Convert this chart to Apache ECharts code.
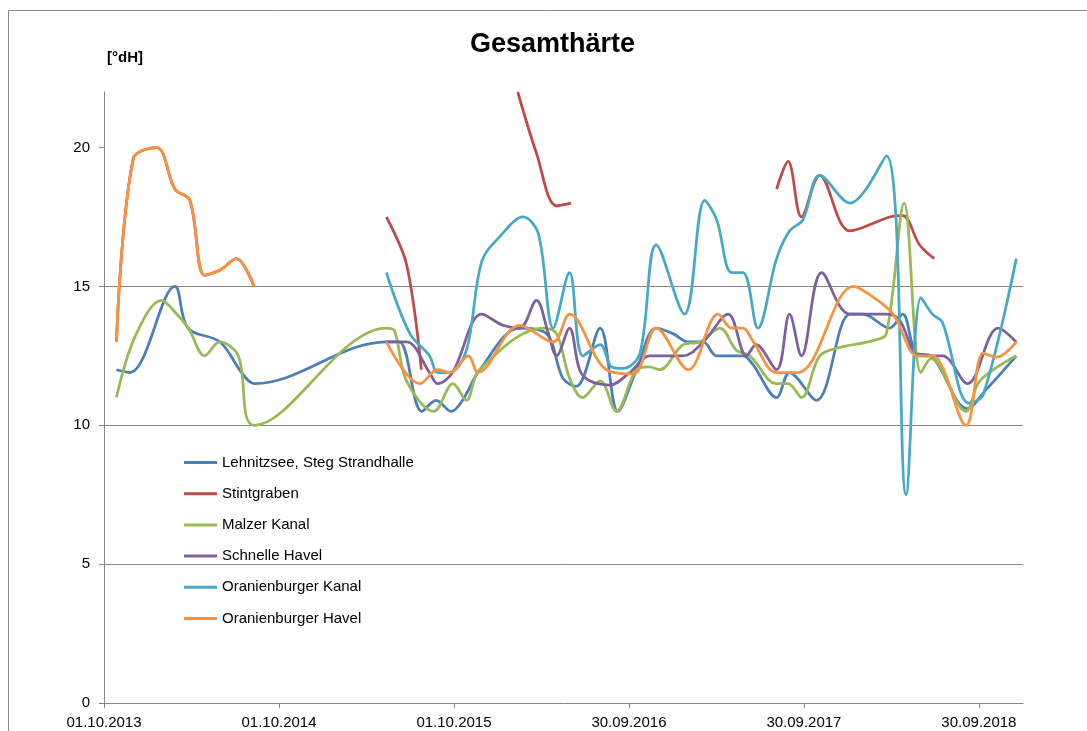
<!DOCTYPE html>
<html>
<head>
<meta charset="utf-8">
<script src="https://cdn.jsdelivr.net/npm/echarts@6/dist/echarts.min.js"></script>
<style>
html,body{margin:0;padding:0;background:#fff;}
#chart{width:1087px;height:731px;}
</style>
</head>
<body>
<div id="chart"></div>
<script>
// ---- data ----
const chartTitle = 'Gesamthärte';
const unitLabel = '[°dH]';
const seriesNames = ['Lehnitzsee, Steg Strandhalle','Stintgraben','Malzer Kanal','Schnelle Havel','Oranienburger Kanal','Oranienburger Havel'];
const xStartDate = '2013-10-01';
const xEndDate = '2018-12-31';
const xTickDates = ['2013-10-01','2014-10-01','2015-10-01','2016-09-30','2017-09-30','2018-09-30'];
const yTicks = [0,5,10,15,20];

const lehnitzsee = [['2013-10-27',12.0],['2013-11-24',11.9],['2014-02-26',15.0],['2014-03-25',13.5],['2014-05-31',13.0],['2014-07-15',11.9],['2014-08-11',11.5],['2015-05-13',13.0],['2015-06-09',13.0],['2015-07-26',10.5],['2015-08-25',10.9],['2015-09-25',10.5],['2015-10-19',10.9],['2015-11-24',12.0],['2016-02-15',13.5],['2016-04-11',13.3],['2016-05-15',11.7],['2016-06-12',11.4],['2016-08-01',13.5],['2016-09-07',10.5],['2016-10-16',12.0],['2016-11-26',13.5],['2016-12-31',13.3],['2017-02-01',13.0],['2017-03-04',13.0],['2017-04-01',12.5],['2017-05-26',12.5],['2017-06-15',12.2],['2017-08-04',11.0],['2017-08-31',11.9],['2017-10-26',10.9],['2018-01-04',14.0],['2018-01-31',14.0],['2018-03-28',13.5],['2018-04-24',14.0],['2018-05-22',12.6],['2018-06-22',12.5],['2018-09-06',10.6],['2018-10-16',11.3],['2018-12-17',12.5]];

const stintgraben = [['2013-10-27',13.0],['2013-12-01',19.6],['2014-01-19',20.0],['2014-02-26',18.5],['2014-03-29',18.1],['2014-04-29',15.4],['2014-06-01',15.6],['2014-07-04',16.0],['2014-08-10',15.0],['2014-10-01','-'],['2015-05-13',17.5],['2015-06-24',15.8],['2015-07-25',12.0],['2015-10-01','-'],['2016-02-11',22.0],['2016-03-21',19.8],['2016-05-02',17.9],['2016-06-01',18.0],['2016-09-01','-'],['2017-08-04',18.5],['2017-08-28',19.5],['2017-09-25',17.5],['2017-11-02',19.0],['2018-01-04',17.0],['2018-03-28',17.5],['2018-04-24',17.55],['2018-05-29',16.5],['2018-06-29',16.0]];

const malzerKanal = [['2013-10-27',11.0],['2013-12-05',13.2],['2014-01-29',14.5],['2014-03-02',14.0],['2014-03-26',13.5],['2014-04-29',12.5],['2014-05-30',13.0],['2014-07-08',12.5],['2014-08-11',10.0],['2015-05-13',13.5],['2015-05-30',13.4],['2015-06-24',11.6],['2015-08-20',10.5],['2015-09-29',11.5],['2015-10-27',10.9],['2015-11-23',12.0],['2016-04-04',13.5],['2016-05-02',13.3],['2016-05-29',11.7],['2016-06-25',11.0],['2016-08-01',11.6],['2016-09-04',10.5],['2016-10-16',12.0],['2016-11-12',12.1],['2016-12-03',12.0],['2017-01-21',12.9],['2017-02-25',13.0],['2017-04-08',13.5],['2017-05-12',12.7],['2017-06-09',12.5],['2017-08-04',11.5],['2017-08-28',11.5],['2017-09-25',11.0],['2017-11-02',12.5],['2017-12-14',12.8],['2018-02-21',13.05],['2018-03-21',13.3],['2018-04-27',18.0],['2018-06-01',11.9],['2018-06-22',12.4],['2018-09-03',10.5],['2018-10-02',11.6],['2018-12-17',12.5]];

const schnelleHavel = [['2015-05-13',13.0],['2015-06-24',13.0],['2015-08-11',11.9],['2015-08-28',11.5],['2015-09-28',11.9],['2015-11-28',14.0],['2016-01-11',13.6],['2016-02-15',13.5],['2016-03-21',14.5],['2016-04-15',13.3],['2016-05-02',12.5],['2016-05-29',13.5],['2016-06-19',12.0],['2016-07-10',11.6],['2016-08-21',11.45],['2016-10-02',11.9],['2016-11-12',12.5],['2017-01-21',12.5],['2017-03-04',13.0],['2017-04-25',14.0],['2017-06-02',12.5],['2017-06-22',12.9],['2017-08-04',12.0],['2017-08-31',14.0],['2017-09-25',12.5],['2017-11-06',15.5],['2018-01-04',14.0],['2018-03-21',14.0],['2018-04-17',13.8],['2018-05-29',12.5],['2018-07-16',12.5],['2018-09-06',11.5],['2018-11-09',13.5],['2018-12-17',13.0]];

const oranienburgerKanal = [['2015-05-13',15.5],['2015-07-01',13.3],['2015-08-11',12.5],['2015-08-28',11.9],['2015-09-22',11.9],['2015-10-27',12.7],['2015-11-28',15.9],['2016-01-05',16.8],['2016-02-22',17.5],['2016-03-25',16.9],['2016-04-25',13.5],['2016-05-29',15.5],['2016-06-26',12.5],['2016-08-01',12.9],['2016-08-25',12.1],['2016-09-18',12.05],['2016-10-23',12.6],['2016-11-26',16.5],['2017-01-24',14.0],['2017-03-07',18.1],['2017-04-01',17.4],['2017-05-02',15.5],['2017-05-26',15.5],['2017-06-26',13.5],['2017-08-04',16.0],['2017-08-31',17.0],['2017-09-28',17.4],['2017-11-02',19.0],['2018-01-04',18.0],['2018-03-21',19.7],['2018-05-01',7.5],['2018-06-01',14.6],['2018-06-25',14.0],['2018-07-16',13.7],['2018-09-09',10.8],['2018-10-09',11.1],['2018-12-17',16.0]];

const oranienburgerHavel = [['2013-10-27',13.0],['2013-12-01',19.6],['2014-01-19',20.0],['2014-02-26',18.5],['2014-03-29',18.1],['2014-04-29',15.4],['2014-06-01',15.6],['2014-07-04',16.0],['2014-08-10',15.0],['2014-10-01','-'],['2015-05-13',13.0],['2015-07-22',11.5],['2015-08-28',12.0],['2015-09-22',11.9],['2015-10-31',12.5],['2015-11-20',11.9],['2016-02-15',13.6],['2016-04-25',13.0],['2016-05-29',14.0],['2016-08-14',12.0],['2016-10-09',11.85],['2016-11-26',13.5],['2017-02-01',12.0],['2017-04-04',14.0],['2017-05-02',13.5],['2017-05-26',13.5],['2017-06-15',13.05],['2017-08-04',11.9],['2017-09-18',11.9],['2018-01-11',15.0],['2018-02-14',14.7],['2018-04-04',14.0],['2018-05-25',12.5],['2018-06-25',12.5],['2018-09-03',10.0],['2018-10-09',12.6],['2018-11-06',12.45],['2018-12-17',13.0]];

const seriesData = [lehnitzsee, stintgraben, malzerKanal, schnelleHavel, oranienburgerKanal, oranienburgerHavel];
const seriesColors = ['#4A7EBB','#BE4B48','#98B954','#7D60A0','#46AAC5','#F69240'];

// ---- helpers ----
const DAY = 86400000;
function parseUTC(s){ const p = s.split('-').map(Number); return Date.UTC(p[0], p[1]-1, p[2]); }
const origin = parseUTC(xStartDate);
function toDays(s){ return Math.round((parseUTC(s) - origin) / DAY); }
function fmtDay(d){
  const dt = new Date(origin + d * DAY);
  const dd = String(dt.getUTCDate()).padStart(2,'0');
  const mm = String(dt.getUTCMonth()+1).padStart(2,'0');
  return dd + '.' + mm + '.' + dt.getUTCFullYear();
}
const xTickDays = xTickDates.map(toDays);

const FONT = 'Liberation Sans, Arial, sans-serif';
const AXIS_COLOR = '#868686';

const chart = echarts.init(document.getElementById('chart'), null, {renderer:'canvas'});
chart.setOption({
  animation: false,
  backgroundColor: '#ffffff',
  title: {
    text: chartTitle, left: 470, top: 31, padding: 0,
    textStyle: { fontFamily: FONT, fontWeight: 'bold', fontSize: 27, color: '#000' }
  },
  graphic: [
    { type: 'rect', shape: { x: 8.5, y: 10.5, width: 1200, height: 900 },
      style: { fill: 'none', stroke: '#8a8a8a', lineWidth: 1 }, silent: true, z: -1 },
    { type: 'text', left: 107, top: 50,
      style: { text: unitLabel, fontFamily: FONT, fontWeight: 'bold', fontSize: 15, fill: '#000' } }
  ],
  legend: {
    orient: 'vertical', left: 184, top: 455, padding: 0,
    icon: 'rect', itemWidth: 33, itemHeight: 3, itemGap: 16.2,
    data: seriesNames,
    textStyle: { fontFamily: FONT, fontSize: 15, color: '#000', lineHeight: 15 }
  },
  grid: { left: 104, right: 64, top: 92, bottom: 28, containLabel: false },
  xAxis: {
    type: 'value', min: 0, max: toDays(xEndDate), interval: 365,
    splitLine: { show: false },
    axisLine: { show: true, onZero: false, lineStyle: { color: AXIS_COLOR, width: 1 } },
    axisTick: { show: true, length: 5, customValues: xTickDays, lineStyle: { color: AXIS_COLOR } },
    axisLabel: { customValues: xTickDays, formatter: v => fmtDay(v), margin: 12,
      fontFamily: FONT, fontSize: 15, color: '#000' }
  },
  yAxis: {
    type: 'value', min: 0, max: 22, interval: 5,
    axisLine: { show: true, lineStyle: { color: AXIS_COLOR, width: 1 } },
    axisTick: { show: true, length: 5, customValues: yTicks, lineStyle: { color: AXIS_COLOR } },
    axisLabel: { customValues: yTicks, margin: 14, fontFamily: FONT, fontSize: 15, color: '#000' },
    splitLine: { show: true, showMinLine: false, showMaxLine: false, lineStyle: { color: AXIS_COLOR, width: 1 } }
  },
  series: seriesNames.map((name, i) => ({
    name: name,
    type: 'line',
    smooth: 0.35,
    symbol: 'none',
    connectNulls: false,
    color: seriesColors[i],
    lineStyle: { width: 2.75, color: seriesColors[i] },
    data: seriesData[i].map(p => [toDays(p[0]), p[1]])
  }))
});
</script>
</body>
</html>
